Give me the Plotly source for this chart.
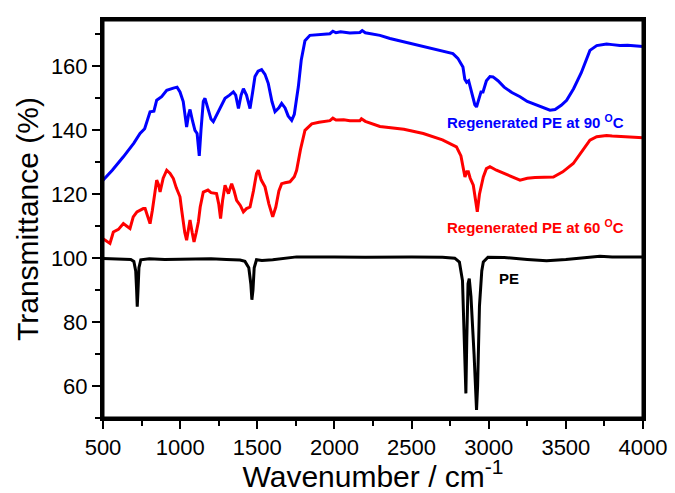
import plotly.graph_objects as go

# ---------------- data ----------------
wn_90 = [500, 560, 632, 700, 740, 770, 805, 830, 848, 880, 913, 940, 956, 980, 999, 1020, 1035, 1042,
         1055, 1064, 1080, 1096, 1110, 1124, 1135, 1150, 1161, 1180, 1200, 1215, 1240, 1270, 1291, 1320,
         1345, 1360, 1378, 1395, 1410, 1430, 1453, 1470, 1485, 1505, 1528, 1550, 1571, 1595, 1615, 1640,
         1658, 1680, 1700, 1723, 1740, 1755, 1766, 1785, 1809, 1841, 1900, 1971, 1990, 2010, 2040, 2100,
         2165, 2180, 2200, 2295, 2360, 2509, 2600, 2700, 2768, 2800, 2833, 2845, 2857, 2870, 2890, 2910,
         2921, 2935, 2950, 2963, 2985, 3008, 3028, 3060, 3100, 3150, 3203, 3250, 3300, 3350, 3397, 3430,
         3470, 3505, 3550, 3600, 3640, 3656, 3700, 3764, 3800, 3850, 3900, 4000]
t_90 = [124.4, 127.5, 131.7, 136, 139, 140.5, 145.8, 146, 149.4, 150.5, 152.5, 152.8, 153.2, 153.5, 152,
        149, 143, 141, 145, 146.5, 143, 140, 139, 132, 140, 149, 150, 147, 143.5, 142.7, 145, 148, 150,
        151, 152, 151, 146.8, 151, 153, 151, 146.8, 152, 156.8, 158.5, 159, 157.5, 154.7, 149, 145.8,
        147, 148.4, 147, 144.5, 143.1, 145, 150, 153.6, 162, 168, 169.7, 170, 170.2, 171, 170.5, 170.8,
        170.4, 170.6, 171.2, 170.5, 169.7, 168.7, 167, 166, 165, 164, 162.5, 159.8, 156, 155, 155.5, 152,
        148, 147.3, 150, 152, 152, 155.5, 156.8, 156.7, 155.5, 153.5, 151.8, 150.5, 149, 148, 147, 146.3,
        146.5, 147.8, 149.4, 153, 158, 163, 165, 166.5, 167, 166.8, 166.5, 166.6, 166.2]

wn_60 = [500, 520, 545, 560, 567, 600, 632, 655, 675, 696, 720, 761, 773, 790, 805, 820, 848, 860, 870,
         890, 913, 935, 956, 975, 999, 1010, 1020, 1030, 1042, 1052, 1064, 1078, 1090, 1104, 1118, 1130,
         1150, 1180, 1200, 1236, 1250, 1262, 1275, 1291, 1303, 1313, 1325, 1334, 1350, 1366, 1390, 1410,
         1430, 1453, 1475, 1495, 1507, 1525, 1550, 1575, 1600, 1620, 1640, 1658, 1680, 1712, 1740, 1755,
         1780, 1809, 1853, 1900, 1971, 1990, 2010, 2060, 2100, 2165, 2175, 2200, 2295, 2360, 2450, 2576,
         2650, 2700, 2791, 2820, 2846, 2858, 2868, 2880, 2900, 2915, 2926, 2940, 2965, 2985, 3008, 3050,
         3100, 3150, 3203, 3250, 3300, 3419, 3480, 3548, 3600, 3656, 3700, 3764, 3800, 3900, 4000]
t_60 = [106.1, 105.5, 104.6, 107, 108.2, 109, 110.8, 110, 109.3, 112.9, 114.5, 115.5, 115.5, 113, 110.8,
        115, 124.4, 123, 120.7, 125, 127.5, 126.5, 124.9, 122, 119.2, 115, 110.8, 108, 105.6, 109, 111.9,
        108, 105.1, 108, 111.3, 116, 120.7, 121.3, 120.5, 120.2, 117, 112.4, 118, 122.8, 121.5, 120.2,
        122, 123.3, 121, 118.1, 116.5, 114.5, 115.5, 116, 121, 126.5, 127.5, 124.5, 122.3, 117, 112.9,
        116, 121, 123.3, 123.6, 123.9, 125.5, 127.5, 134, 140, 142, 142.5, 143, 143.8, 143.2, 143.3, 143,
        143, 143.6, 142.8, 141.2, 140.8, 140.3, 139, 137.8, 137, 134.8, 132, 125.4, 127, 127, 125, 122.8,
        118, 114.5, 120, 125.4, 128, 128.6, 127.5, 126.5, 125.4, 124.4, 125, 125.2, 125.4, 127, 129.6,
        133, 136.9, 138, 138.4, 138.2, 137.9, 137.7]

wn_pe = [500, 600, 680, 700, 712, 718, 722, 727, 733, 745, 800, 900, 1000, 1100, 1200, 1300, 1388, 1420,
         1445, 1458, 1465, 1472, 1480, 1495, 1530, 1600, 1700, 1755, 2000, 2200, 2500, 2700, 2780, 2810,
         2830, 2845, 2852, 2858, 2866, 2874, 2885, 2905, 2915, 2921, 2928, 2940, 2955, 2965, 2995, 3100,
         3250, 3375, 3500, 3650, 3721, 3800, 4000]
t_pe = [99.9, 99.7, 99.6, 99, 96, 90, 84.8, 90, 97, 99.5, 99.8, 99.6, 99.7, 99.6, 99.8, 99.6, 99.4, 99,
        97, 92, 87, 90, 97, 99.5, 99.3, 99.5, 100.2, 100.4, 100.4, 100.3, 100.4, 100.3, 100, 98.8, 93,
        70, 57.7, 75, 92, 93.6, 88, 70, 55, 52.5, 60, 85, 96, 98.8, 100.3, 100.2, 99.6, 99.2, 99.6, 100.2,
        100.6, 100.4, 100.4]

x_ticks = [500, 1000, 1500, 2000, 2500, 3000, 3500, 4000]
y_ticks = [60, 80, 100, 120, 140, 160]

labels = ["Regenerated PE at 90 <sup>O</sup>C", "Regenerated PE at 60 <sup>O</sup>C", "PE"]
label_x = [3300, 3300, 3131]
label_y = [142.8, 110.0, 93.5]
colors = ["#0000FF", "#FF0000", "#000000"]

FONT = "Arial, Liberation Sans, sans-serif"

fig = go.Figure()
for wn, t, c in [(wn_90, t_90, colors[0]), (wn_60, t_60, colors[1]), (wn_pe, t_pe, colors[2])]:
    fig.add_trace(go.Scatter(x=wn, y=t, mode="lines", line=dict(color=c, width=3), showlegend=False))

for txt, lx, ly, c in zip(labels, label_x, label_y, colors):
    fig.add_annotation(x=lx, y=ly, text=txt, showarrow=False, xanchor="center", yanchor="middle",
                       font=dict(family=FONT, size=15, color=c, weight="bold"))

# frame around the plot area
fig.add_shape(type="rect", xref="paper", yref="paper", x0=0, x1=1, y0=0, y1=1,
              line=dict(color="black", width=3), fillcolor="rgba(0,0,0,0)", layer="above")

axis_common = dict(showline=True, linecolor="black", linewidth=3, mirror=True, ticks="outside",
                   tickwidth=2, ticklen=8, tickcolor="black", showgrid=False, zeroline=False,
                   automargin=False,
                   tickfont=dict(family=FONT, size=22, color="black"))

fig.update_xaxes(range=[500, 4000], tickvals=x_ticks, ticktext=[str(v) for v in x_ticks],
                 minor=dict(dtick=250, tick0=500, ticks="outside", ticklen=5, tickwidth=2, tickcolor="black"),
                 title=dict(text="Wavenumber / cm<sup>-1</sup>", font=dict(family=FONT, size=30, color="black")),
                 **axis_common)
fig.update_yaxes(range=[50, 174.5], tickvals=y_ticks, ticktext=[str(v) for v in y_ticks],
                 minor=dict(dtick=10, tick0=50, ticks="outside", ticklen=5, tickwidth=2, tickcolor="black"),
                 title=dict(text="Transmittance (%)", font=dict(family=FONT, size=30, color="black"),
                            standoff=4),
                 **axis_common)

fig.update_layout(width=675, height=493, margin=dict(l=103, r=32, t=20, b=75),
                  paper_bgcolor="white", plot_bgcolor="white")

fig.write_html("out.html", config={"displayModeBar": False},
               post_script="document.body.style.margin='0';document.body.style.overflow='hidden';")
